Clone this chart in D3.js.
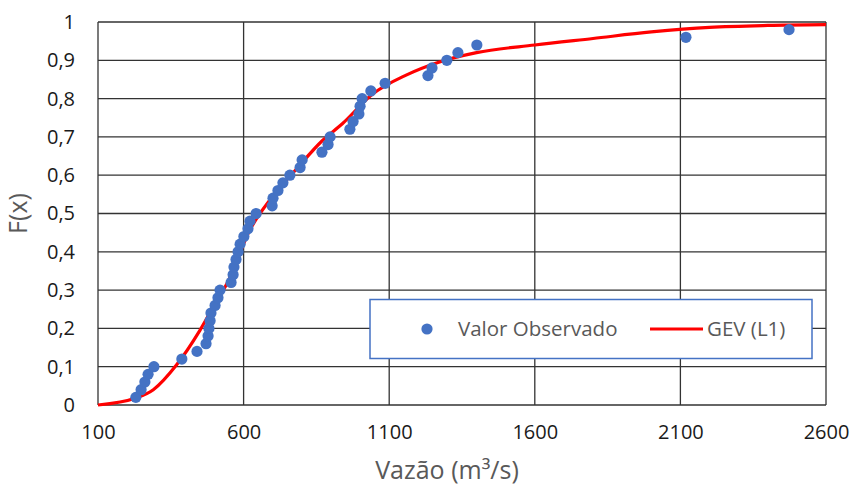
<!DOCTYPE html>
<html>
<head>
<meta charset="utf-8">
<script src="https://cdn.jsdelivr.net/npm/d3@7"></script>
<style>
  html, body { margin: 0; padding: 0; background: #fff; }
  svg { display: block; }
  text { font-family: "Open Sans", "Noto Sans", sans-serif; }
</style>
</head>
<body>
<svg id="chart" width="850" height="486"></svg>
<script>
// Observed values (Vazão, m³/s) and their empirical probabilities
const obsX = [230, 248, 261, 272, 292, 388, 440, 471, 478, 481, 485, 488, 502, 512, 519,
  557, 564, 567, 574, 581, 588, 601, 615, 622, 643, 698, 701, 718, 735, 759, 794, 801,
  869, 890, 897, 965, 976, 996, 1000, 1007, 1037, 1086, 1233, 1247, 1298, 1336, 1401, 2119, 2473];
const obsF = [0.02, 0.04, 0.06, 0.08, 0.10, 0.12, 0.14, 0.16, 0.18, 0.20, 0.22, 0.24, 0.26,
  0.28, 0.30, 0.32, 0.34, 0.36, 0.38, 0.40, 0.42, 0.44, 0.46, 0.48, 0.50, 0.52, 0.54, 0.56,
  0.58, 0.60, 0.62, 0.64, 0.66, 0.68, 0.70, 0.72, 0.74, 0.76, 0.78, 0.80, 0.82, 0.84, 0.86,
  0.88, 0.90, 0.92, 0.94, 0.96, 0.98];
// GEV (L1) fitted curve
const gevX = [100, 230, 290, 370, 450, 510, 545, 620, 700, 780, 870, 940, 1040, 1160, 1270, 1400, 1600, 1800, 2000, 2200, 2400, 2600];
const gevF = [0, 0.018, 0.04, 0.105, 0.195, 0.275, 0.32, 0.455, 0.545, 0.615, 0.69, 0.735, 0.81, 0.862, 0.895, 0.92, 0.94, 0.957, 0.974, 0.986, 0.991, 0.993];
// Ticks
const xTicks = [100, 600, 1100, 1600, 2100, 2600];
const yTicks = [0, 0.1, 0.2, 0.3, 0.4, 0.5, 0.6, 0.7, 0.8, 0.9, 1];
const xTitle = "Vazão (m³/s)";
const yTitle = "F(x)";
const legendLabels = ["Valor Observado", "GEV (L1)"];

const svg = d3.select("#chart");
const m = { left: 98, top: 22, right: 24, bottom: 81 };
const W = 850, H = 486;
const x = d3.scaleLinear().domain([100, 2600]).range([m.left, W - m.right]);
const y = d3.scaleLinear().domain([0, 1]).range([H - m.bottom, m.top]);

const gridColor = "#333";
// vertical grid
svg.append("g").selectAll("line").data(xTicks).join("line")
  .attr("x1", d => x(d)).attr("x2", d => x(d))
  .attr("y1", y(0)).attr("y2", y(1))
  .attr("stroke", gridColor).attr("stroke-width", 1.3);
// horizontal grid
svg.append("g").selectAll("line").data(yTicks).join("line")
  .attr("x1", x(100)).attr("x2", x(2600))
  .attr("y1", d => y(d)).attr("y2", d => y(d))
  .attr("stroke", gridColor).attr("stroke-width", 1.3);

// axes tick labels
const xAxis = d3.axisBottom(x).tickValues(xTicks).tickSize(0).tickPadding(20).tickFormat(d3.format("d"));
const gx = svg.append("g").attr("transform", `translate(0,${y(0)})`).call(xAxis);
gx.select(".domain").remove();
gx.selectAll("text").attr("font-size", 20).attr("fill", "#1a1a1a")
  .attr("font-family", '"Open Sans", sans-serif');

const fmtY = d => d3.format(".1~f")(d).replace(".", ",");
const yAxis = d3.axisLeft(y).tickValues(yTicks).tickSize(0).tickPadding(23).tickFormat(fmtY);
const gy = svg.append("g").attr("transform", `translate(${x(100)},0)`).call(yAxis);
gy.select(".domain").remove();
gy.selectAll("text").attr("font-size", 20).attr("fill", "#1a1a1a")
  .attr("font-family", '"Open Sans", sans-serif');

// GEV line
const line = d3.line().x(d => x(d[0])).y(d => y(d[1])).curve(d3.curveMonotoneX);
svg.append("path").datum(gevX.map((v, i) => [v, gevF[i]]))
  .attr("d", line).attr("fill", "none").attr("stroke", "#FF0000").attr("stroke-width", 3.2)
  .attr("stroke-linejoin", "round");

// observed points
svg.append("g").selectAll("circle").data(obsX.map((v, i) => [v, obsF[i]])).join("circle")
  .attr("cx", d => x(d[0])).attr("cy", d => y(d[1])).attr("r", 5.6)
  .attr("fill", "#4472C4");

// axis titles
svg.append("text").attr("x", 447).attr("y", 479).attr("text-anchor", "middle")
  .attr("font-size", 25).attr("fill", "#595959").text(xTitle);
svg.append("text").attr("transform", `translate(27,${(y(0) + y(1)) / 2}) rotate(-90)`)
  .attr("text-anchor", "middle").attr("font-size", 25).attr("fill", "#595959").text(yTitle);

// legend
const lg = svg.append("g");
lg.append("rect").attr("x", 370).attr("y", 299.5).attr("width", 442).attr("height", 59)
  .attr("fill", "#fff").attr("stroke", "#4472C4").attr("stroke-width", 1.5);
lg.append("circle").attr("cx", 427).attr("cy", 329).attr("r", 5.6).attr("fill", "#4472C4");
lg.append("text").attr("x", 458).attr("y", 336).attr("font-size", 20.5).attr("fill", "#595959").text(legendLabels[0]);
lg.append("line").attr("x1", 650).attr("x2", 703).attr("y1", 329).attr("y2", 329)
  .attr("stroke", "#FF0000").attr("stroke-width", 3.2);
lg.append("text").attr("x", 707).attr("y", 336).attr("font-size", 20.5).attr("fill", "#595959").text(legendLabels[1]);
</script>
</body>
</html>
